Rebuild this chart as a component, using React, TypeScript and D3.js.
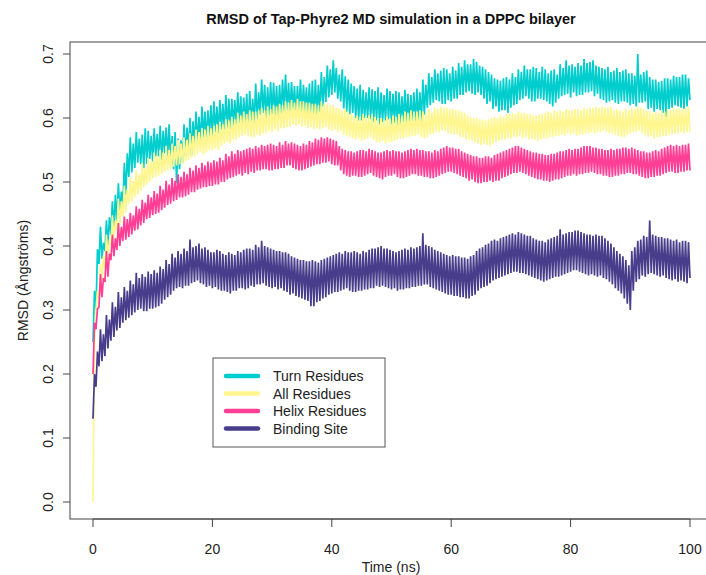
import React from 'react';
import * as d3 from 'd3';

// Sampling interval of the trajectory values below (ns)
const sampleStepNs = 0.25;

// RMSD values in milli-Ångströms, one every 0.25 ns from 0 to 100 ns (20 values = 5 ns per row)
const turnResidues = [
  250,330,300,395, 372,430,380,405, 392,440,400,445, 418,470,425,480, 436,498,450,485,
  462,530,480,545, 508,570,515,560, 522,578,530,568, 528,574,522,584, 528,580,536,572,
  532,584,540,575, 540,588,535,580, 545,585,540,590, 532,572,520,578, 498,568,520,565,
  530,590,540,585, 548,600,542,595, 556,610,560,602, 562,618,570,610, 566,612,572,620,
  572,626,578,618, 576,628,582,622, 582,636,585,630, 580,630,588,628, 590,640,592,634,
  586,632,590,638, 582,642,588,630, 590,654,598,640, 605,660,608,652, 600,648,604,656,
  606,655,602,650, 598,652,606,660, 610,668,612,655, 608,656,614,650, 604,650,608,660,
  602,652,610,648, 606,654,600,658, 598,660,604,652, 610,672,618,664, 625,682,632,676,
  636,690,640,678, 630,668,626,676, 615,665,610,660, 606,654,608,650, 600,646,596,652,
  596,644,600,640, 600,648,598,645, 594,642,596,648, 590,640,594,636, 596,646,598,642,
  590,638,592,642, 586,640,590,634, 594,644,590,638, 588,636,592,640, 590,646,596,640,
  594,660,605,652, 616,670,620,664, 624,676,628,670, 626,674,622,678, 622,676,628,670,
  626,680,630,674, 630,686,636,680, 636,690,640,684, 642,684,638,692, 636,688,640,682,
  636,680,630,676, 622,672,626,668, 614,662,618,660, 610,658,612,662, 612,664,608,660,
  616,670,620,664, 622,676,628,672, 630,682,634,676, 630,676,626,680, 626,678,630,672,
  630,680,628,676, 626,670,622,674, 618,676,624,668, 630,684,634,678, 636,690,638,682,
  632,684,640,680, 634,686,636,682, 636,692,640,686, 640,688,642,690, 634,682,638,680,
  630,678,628,676, 624,680,626,672, 628,674,624,678, 622,672,626,674, 626,676,624,670,
  620,670,622,666, 618,700,624,668, 624,672,626,674, 614,664,616,660, 610,660,614,656,
  612,658,608,662, 602,662,614,660, 616,666,620,664, 618,664,616,668, 614,668,618,662,
  628,
];

const allResidues = [
  0,250,300,330, 320,372,345,385, 366,418,380,410, 402,448,410,440, 424,474,432,470,
  446,494,452,488, 466,508,470,502, 476,518,480,512, 486,530,492,522, 496,538,500,532,
  506,546,508,540, 510,550,512,546, 516,556,518,550, 520,560,524,556, 526,566,528,560,
  528,570,532,566, 534,576,538,572, 540,582,544,578, 546,584,544,582, 546,588,550,584,
  550,588,552,590, 550,594,556,590, 560,598,562,596, 560,602,566,598, 566,608,570,604,
  572,610,574,606, 572,612,570,610, 570,610,574,612, 572,616,576,612, 576,618,580,614,
  578,620,582,618, 580,622,584,620, 584,626,586,624, 586,628,590,624, 588,630,590,626,
  586,626,588,624, 584,624,586,622, 582,622,584,620, 582,626,584,622, 586,622,582,620,
  580,620,582,616, 578,616,580,612, 574,614,572,610, 570,606,568,604, 566,604,568,602,
  564,606,566,604, 568,604,570,606, 566,602,562,600, 562,600,564,598, 560,602,562,600,
  562,604,564,602, 566,606,568,604, 568,610,570,608, 570,612,572,610, 572,610,574,612,
  570,610,568,608, 570,614,574,610, 576,616,578,614, 578,618,580,616, 580,616,576,614,
  576,614,574,612, 574,612,570,610, 570,608,566,604, 566,602,564,600, 562,600,560,598,
  558,598,560,596, 558,598,556,600, 560,602,562,600, 564,604,566,602, 566,606,568,606,
  568,608,570,606, 570,610,572,608, 568,608,570,606, 566,606,568,604, 566,604,564,606,
  566,606,568,608, 568,610,570,608, 570,612,572,610, 572,612,574,610, 572,614,576,612,
  574,612,576,614, 572,614,574,612, 574,616,576,614, 576,616,578,616, 576,618,578,616,
  578,618,580,616, 578,616,576,618, 576,612,574,614, 572,612,570,610, 570,614,574,612,
  576,616,578,614, 578,618,580,616, 576,614,574,612, 570,610,572,608, 568,610,570,608,
  570,612,572,610, 572,614,574,612, 574,616,576,614, 576,616,578,614, 576,616,578,618,
  578,
];

const helixResidues = [
  200,280,270,302, 304,356,320,350, 344,392,352,388, 378,418,384,412, 394,436,400,430,
  408,446,410,442, 414,452,418,448, 424,462,426,458, 432,472,436,468, 442,480,444,476,
  448,486,450,482, 452,494,456,488, 460,502,464,496, 466,506,470,502, 472,512,476,508,
  476,516,478,512, 480,522,484,518, 484,526,488,522, 490,530,492,526, 492,532,494,530,
  494,534,496,532, 496,538,500,534, 500,544,504,540, 506,548,508,544, 510,550,512,548,
  510,550,514,552, 512,554,516,552, 514,556,518,554, 518,558,520,556, 520,558,518,560,
  518,558,520,556, 520,562,522,558, 522,564,526,560, 526,562,522,560, 520,558,518,556,
  518,560,520,558, 522,564,524,562, 526,568,528,566, 528,570,530,568, 530,570,532,568,
  528,566,526,564, 526,556,518,552, 512,550,510,548, 508,548,510,546, 510,548,508,550,
  508,550,510,548, 512,552,514,550, 510,548,508,546, 506,546,504,548, 508,550,510,548,
  510,550,512,548, 508,548,506,546, 506,548,508,550, 510,552,512,550, 512,552,510,550,
  510,550,508,548, 508,548,506,546, 506,550,508,548, 510,552,512,554, 514,556,516,554,
  516,554,514,552, 512,552,510,548, 508,546,506,544, 502,542,504,540, 500,540,498,538,
  498,538,500,540, 500,540,502,538, 500,542,502,544, 502,546,506,548, 508,550,510,552,
  512,554,514,556, 514,556,516,554, 514,552,512,550, 510,548,508,546, 506,546,504,544,
  504,544,502,542, 502,542,500,544, 502,544,504,546, 504,548,506,548, 508,550,510,552,
  510,550,512,552, 510,552,512,554, 512,556,514,556, 514,556,516,554, 514,554,512,552,
  512,552,510,550, 510,550,508,552, 508,550,510,552, 510,552,512,554, 512,554,514,552,
  514,554,512,552, 512,550,510,548, 508,548,506,546, 506,546,508,548, 508,550,510,548,
  510,552,512,554, 514,556,516,558, 516,556,514,558, 514,556,516,558, 516,558,518,560,
  518,
];

const bindingSite = [
  130,200,180,235, 212,270,220,262, 228,292,240,285, 252,312,258,305, 268,328,272,320,
  280,336,284,330, 288,346,292,340, 296,358,300,350, 302,356,298,352, 298,360,302,356,
  302,362,304,358, 306,368,310,364, 316,378,320,372, 324,388,330,382, 334,392,336,388,
  334,396,338,392, 338,410,342,398, 344,400,346,404, 342,396,340,398, 336,394,338,390,
  334,390,336,394, 332,392,330,388, 330,386,328,390, 326,388,330,386, 330,392,334,390,
  334,394,332,396, 334,396,338,394, 336,402,340,398, 340,408,342,400, 338,398,336,396,
  334,394,336,392, 332,392,334,390, 330,390,328,388, 324,384,326,382, 322,380,320,378,
  318,378,316,376, 314,376,306,378, 306,376,312,374, 314,378,318,380, 320,382,324,384,
  326,386,328,388, 328,390,330,388, 332,392,334,390, 330,390,328,392, 328,390,330,388,
  330,392,332,390, 332,394,334,396, 334,396,338,398, 336,400,338,396, 336,396,334,394,
  332,392,334,390, 330,392,332,394, 332,396,334,394, 334,398,336,396, 336,398,338,400,
  338,420,340,402, 340,400,336,398, 334,394,332,392, 330,390,328,388, 326,386,324,384,
  324,386,322,384, 322,384,320,382, 320,382,318,380, 318,384,322,386, 324,392,330,396,
  334,398,336,402, 338,404,342,408, 346,410,348,408, 350,412,352,414, 354,416,356,418,
  358,420,360,418, 360,422,358,420, 358,418,356,416, 354,416,352,412, 350,410,348,408,
  346,408,344,406, 346,410,348,412, 350,414,352,416, 352,426,354,418, 356,420,358,422,
  360,422,362,424, 362,424,360,422, 358,420,356,418, 354,418,356,416, 354,418,352,416,
  354,416,350,412, 348,408,344,404, 340,398,334,392, 330,388,326,384, 318,378,310,370,
  300,392,330,398, 344,408,348,410, 354,416,352,414, 356,440,358,418, 356,416,354,414,
  352,414,354,412, 350,412,348,410, 346,408,348,410, 344,406,346,408, 344,408,342,406,
  350,
];

const seriesNames = ['Turn Residues', 'All Residues', 'Helix Residues', 'Binding Site'];
const seriesValues = [turnResidues, allResidues, helixResidues, bindingSite];
const seriesColors = ['#00CDCD', '#FFF68F', '#FF3E96', '#483D8B'];

const xTicks = [0, 20, 40, 60, 80, 100];
const yTicks = [0, 0.1, 0.2, 0.3, 0.4, 0.5, 0.6, 0.7];

const titleText = 'RMSD of Tap-Phyre2 MD simulation in a DPPC bilayer';
const xLabel = 'Time (ns)';
const yLabel = 'RMSD (Ångströms)';

export default function App() {
  const W = 706;
  const H = 575;
  const box = { left: 70, top: 42, right: 712, bottom: 519 };
  const x = d3.scaleLinear().domain([0, 100]).range([93, 690]);
  const y = d3.scaleLinear().domain([0, 0.7]).range([502, 54]);
  const line = d3
    .line<number>()
    .x((_, i) => x(i * sampleStepNs))
    .y((d) => y(d / 1000));
  const font = '"Liberation Sans", Arial, sans-serif';
  const axisColor = '#444';

  const legend = { x: 213, y: 358, w: 172, h: 89, rowY: [376, 393.5, 411, 428.5] };

  return (
    <svg
      width={W}
      height={H}
      style={{ position: 'absolute', left: 0, top: 0, background: '#fff' }}
      fontFamily={font}
    >
      <defs>
        <clipPath id="plotClip">
          <rect x={box.left} y={box.top} width={box.right - box.left} height={box.bottom - box.top} />
        </clipPath>
      </defs>
      <rect x={0} y={0} width={W} height={H} fill="#fff" />
      <g clipPath="url(#plotClip)">
        {seriesValues.map((vals, k) => (
          <path
            key={seriesNames[k]}
            d={line(vals) || ''}
            fill="none"
            stroke={seriesColors[k]}
            strokeWidth={1.7}
            strokeLinejoin="miter"
            strokeMiterlimit={3}
          />
        ))}
      </g>
      <rect
        x={box.left}
        y={box.top}
        width={box.right - box.left}
        height={box.bottom - box.top}
        fill="none"
        stroke={axisColor}
        strokeWidth={1}
      />
      {/* x axis */}
      <line x1={x(0)} x2={x(100)} y1={box.bottom} y2={box.bottom} stroke={axisColor} />
      {xTicks.map((t) => (
        <g key={t}>
          <line x1={x(t)} x2={x(t)} y1={box.bottom} y2={box.bottom + 8} stroke={axisColor} />
          <text x={x(t)} y={554} textAnchor="middle" fontSize={14} fill="#222">
            {t}
          </text>
        </g>
      ))}
      {/* y axis */}
      {yTicks.map((t) => (
        <g key={t}>
          <line x1={box.left - 7} x2={box.left} y1={y(t)} y2={y(t)} stroke={axisColor} />
          <text
            transform={`translate(53, ${y(t)}) rotate(-90)`}
            textAnchor="middle"
            fontSize={14}
            fill="#222"
          >
            {t.toFixed(1)}
          </text>
        </g>
      ))}
      <text x={391} y={24} textAnchor="middle" fontSize={14.5} fontWeight="bold" fill="#111">
        {titleText}
      </text>
      <text x={391} y={572} textAnchor="middle" fontSize={14} fill="#222">
        {xLabel}
      </text>
      <text
        transform={`translate(28, ${(box.top + box.bottom) / 2}) rotate(-90)`}
        textAnchor="middle"
        fontSize={14}
        fill="#222"
      >
        {yLabel}
      </text>
      {/* legend */}
      <rect x={legend.x} y={legend.y} width={legend.w} height={legend.h} fill="#fff" stroke="#555" />
      {seriesNames.map((name, k) => (
        <g key={name}>
          <line
            x1={226}
            x2={258}
            y1={legend.rowY[k]}
            y2={legend.rowY[k]}
            stroke={seriesColors[k]}
            strokeWidth={4.5}
            strokeLinecap="round"
          />
          <text x={273} y={legend.rowY[k] + 5} fontSize={14} fill="#222">
            {name}
          </text>
        </g>
      ))}
    </svg>
  );
}
